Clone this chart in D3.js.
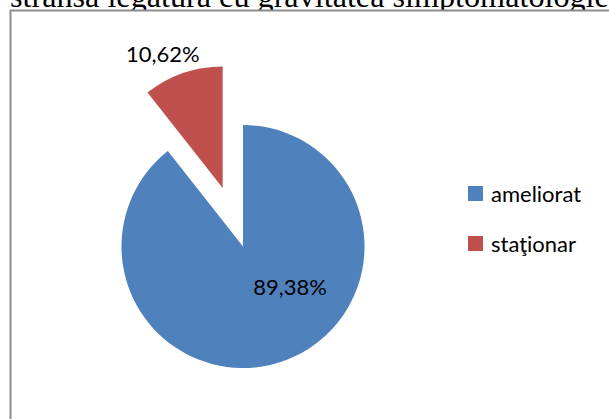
<!DOCTYPE html>
<html>
<head>
<meta charset="utf-8">
<script src="https://cdn.jsdelivr.net/npm/d3@7"></script>
<style>
body { margin: 0; background: #fff; }
</style>
</head>
<body>
<div id="container"></div>
<script>
const WIDTH = 609;
const HEIGHT = 419;

// chart data
const CATEGORIES = ["ameliorat", "staţionar"];
const VALUES = [89.38, 10.62];
const VALUE_LABELS = ["89,38%", "10,62%"];
const COLORS = ["#4F81BD", "#C0504D"];
const HEADING = "strânsă legătură cu gravitatea simptomatologiei";

// layout
const CENTER_X = 243;
const CENTER_Y = 246.5;
const RADIUS = 121.5;
const EXPLODE = [0, 62];
const LABEL_POLAR = [{angle: 130.5, dist: 62}, {angle: -24, dist: 147}];
const FONT = "Lato, 'Open Sans', sans-serif";

var translate = function (x, y) {
    return "translate(" + x + "," + y + ")";
};

var svg = d3.select("#container").append("svg")
    .attr("width", WIDTH)
    .attr("height", HEIGHT);

// line of the page text above the chart, cut at the top
svg.append("text")
    .attr("x", 10)
    .attr("y", 7)
    .attr("font-family", "'Liberation Serif', 'Times New Roman', serif")
    .attr("font-size", 32.2)
    .attr("fill", "#000")
    .text(HEADING);

// chart frame (white, covers the descenders of the line above)
svg.append("rect")
    .attr("x", 10.5)
    .attr("y", 10.5)
    .attr("width", 700)
    .attr("height", 600)
    .attr("fill", "#fff")
    .attr("stroke", "#8c8c8c")
    .attr("stroke-width", 2);

var pie = d3.pie().sort(null).value(function (d) { return d; });
var arcs = pie(VALUES);
var arc = d3.arc().innerRadius(0).outerRadius(RADIUS);

var shift = function (d, i) {
    var mid = (d.startAngle + d.endAngle) / 2;
    return [Math.sin(mid) * EXPLODE[i], -Math.cos(mid) * EXPLODE[i]];
};

var g = svg.append("g").attr("transform", translate(CENTER_X, CENTER_Y));

g.selectAll("path").data(arcs)
    .enter().append("path")
    .attr("d", arc)
    .attr("fill", function (d, i) { return COLORS[i]; })
    .attr("transform", function (d, i) {
        var s = shift(d, i);
        return translate(s[0], s[1]);
    });

g.selectAll("text.val").data(arcs)
    .enter().append("text")
    .attr("class", "val")
    .attr("x", function (d, i) {
        var a = LABEL_POLAR[i].angle * Math.PI / 180;
        return shift(d, i)[0] + Math.sin(a) * LABEL_POLAR[i].dist;
    })
    .attr("y", function (d, i) {
        var a = LABEL_POLAR[i].angle * Math.PI / 180;
        return shift(d, i)[1] - Math.cos(a) * LABEL_POLAR[i].dist;
    })
    .attr("dy", "0.36em")
    .attr("text-anchor", "middle")
    .attr("font-family", FONT)
    .attr("font-size", 22)
    .attr("fill", "#000")
    .text(function (d, i) { return VALUE_LABELS[i]; });

// legend
var legend = svg.append("g").attr("transform", translate(468, 186));
var rows = legend.selectAll("g").data(CATEGORIES)
    .enter().append("g")
    .attr("transform", function (d, i) { return translate(0, i * 50); });

rows.append("rect")
    .attr("width", 15)
    .attr("height", 15)
    .attr("fill", function (d, i) { return COLORS[i]; });

rows.append("text")
    .attr("x", 23)
    .attr("y", 15.5)
    .attr("font-family", FONT)
    .attr("font-size", 22)
    .attr("fill", "#000")
    .text(function (d) { return d; });
</script>
</body>
</html>
